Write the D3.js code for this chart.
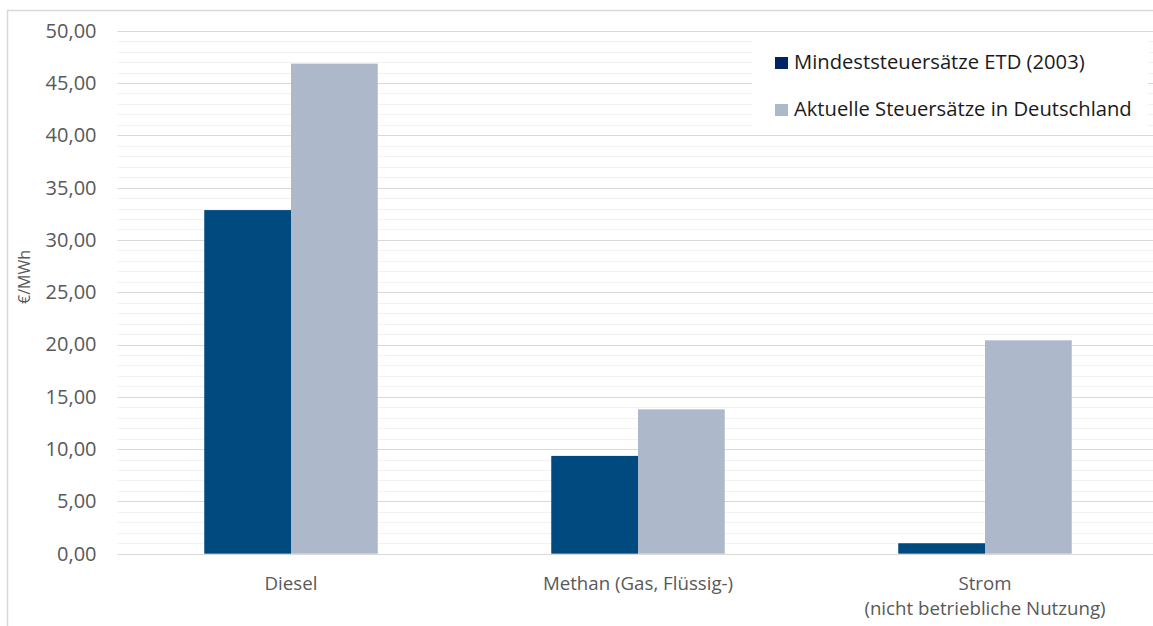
<!DOCTYPE html>
<html>
<head>
<meta charset="utf-8">
<script src="https://cdn.jsdelivr.net/npm/d3@7"></script>
<style>
  body { margin: 0; background: #fff; }
  svg { display: block; font-family: "Open Sans", sans-serif; }
</style>
</head>
<body>
<svg id="chart"></svg>
<script>
// data
const categories = ["Diesel", "Methan (Gas, Flüssig-)", "Strom\n(nicht betriebliche Nutzung)"];
const seriesNames = ["Mindeststeuersätze ETD (2003)", "Aktuelle Steuersätze in Deutschland"];
const etdValues = [32.85, 9.35, 1.0];
const deValues = [46.85, 13.8, 20.4];
const yTicks = [0, 5, 10, 15, 20, 25, 30, 35, 40, 45, 50];

const barColors = ["#004A80", "#ADB9CA"];
const legendColors = ["#002366", "#ADB9CA"];

const svgWidth = 1153, svgHeight = 626;
const plot = {left: 117.5, right: 1158.5, top: 30.7, bottom: 553.7};

const chart = d3.select("#chart")
    .attr("width", svgWidth)
    .attr("height", svgHeight);

const de = d3.formatLocale({decimal: ",", thousands: ".", grouping: [3], currency: ["", " €"]});
const fmt = de.format(".2f");

var yScale = d3.scaleLinear().domain([0, 50]).range([plot.bottom, plot.top]);
var x0 = d3.scaleBand().domain(categories).range([plot.left, plot.right])
    .paddingInner(0.5).paddingOuter(0.25);
var x1 = d3.scaleBand().domain(seriesNames).range([0, x0.bandwidth()]);

// outer frame
chart.append("rect")
    .attr("x", 7.5).attr("y", 10.5)
    .attr("width", svgWidth + 20).attr("height", svgHeight + 20)
    .attr("fill", "none")
    .attr("stroke", "#D9D9D9")
    .attr("stroke-width", 1.5);

// minor gridlines
const minor = d3.range(0, 51).filter(d => d % 5 != 0);
chart.append("g").selectAll("line")
    .data(minor)
    .enter().append("line")
    .attr("x1", plot.left).attr("x2", plot.right)
    .attr("y1", d => Math.round(yScale(d)) + 0.5)
    .attr("y2", d => Math.round(yScale(d)) + 0.5)
    .attr("stroke", "#F2F2F2");

// major gridlines
chart.append("g").selectAll("line")
    .data(yTicks)
    .enter().append("line")
    .attr("x1", plot.left).attr("x2", plot.right)
    .attr("y1", d => Math.round(yScale(d)) + 0.5)
    .attr("y2", d => Math.round(yScale(d)) + 0.5)
    .attr("stroke", "#D9D9D9")
    .attr("stroke-width", 1.2);

// bars
const rows = categories.map((c, i) => ({cat: c, vals: [etdValues[i], deValues[i]]}));
const groups = chart.append("g").selectAll("g")
    .data(rows)
    .enter().append("g")
    .attr("transform", d => "translate(" + x0(d.cat) + ",0)");

groups.selectAll("rect")
    .data(d => d.vals.map((v, j) => ({name: seriesNames[j], value: v, j: j})))
    .enter().append("rect")
    .attr("x", d => x1(d.name))
    .attr("y", d => yScale(d.value))
    .attr("width", x1.bandwidth())
    .attr("height", d => yScale(0) - yScale(d.value))
    .attr("fill", d => barColors[d.j]);

// y axis
const yAxis = d3.axisLeft(yScale).tickValues(yTicks).tickSize(0).tickPadding(21).tickFormat(fmt);
chart.append("g")
    .attr("transform", "translate(" + plot.left + ",0)")
    .call(yAxis)
    .call(g => g.select(".domain").remove())
    .selectAll("text")
    .attr("fill", "#595959")
    .style("font-family", "'Open Sans', sans-serif")
    .style("font-size", "20px");

// x axis (multi-line labels)
const xAxis = d3.axisBottom(x0).tickSize(0).tickPadding(0).tickFormat("");
const xg = chart.append("g")
    .attr("transform", "translate(0," + plot.bottom + ")")
    .call(xAxis);
xg.select(".domain").remove();
xg.selectAll(".tick").append("text")
    .attr("fill", "#595959")
    .attr("text-anchor", "middle")
    .style("font-family", "'Open Sans', sans-serif")
    .style("font-size", "18.7px")
    .each(function(d) {
        const lines = d.split("\n");
        d3.select(this).selectAll("tspan")
            .data(lines)
            .enter().append("tspan")
            .attr("x", 0)
            .attr("y", (l, i) => 36 + i * 25.5)
            .text(l => l);
    });

// y title
chart.append("text")
    .attr("transform", "translate(30,277) rotate(-90)")
    .attr("text-anchor", "middle")
    .attr("fill", "#595959")
    .style("font-size", "16px")
    .text("€/MWh");

// legend
const legend = chart.append("g");
legend.append("rect")
    .attr("x", 752).attr("y", 33)
    .attr("width", 396).attr("height", 96)
    .attr("fill", "#fff");

const items = legend.selectAll("g.item")
    .data(seriesNames)
    .enter().append("g")
    .attr("class", "item")
    .attr("transform", (d, i) => "translate(775," + (57 + i * 47) + ")");

items.append("rect")
    .attr("width", 13).attr("height", 12)
    .attr("fill", (d, i) => legendColors[i]);

items.append("text")
    .attr("x", 19).attr("y", 11.5)
    .attr("fill", "#1a1a1a")
    .style("font-size", "20.2px")
    .text(d => d);
</script>
</body>
</html>
